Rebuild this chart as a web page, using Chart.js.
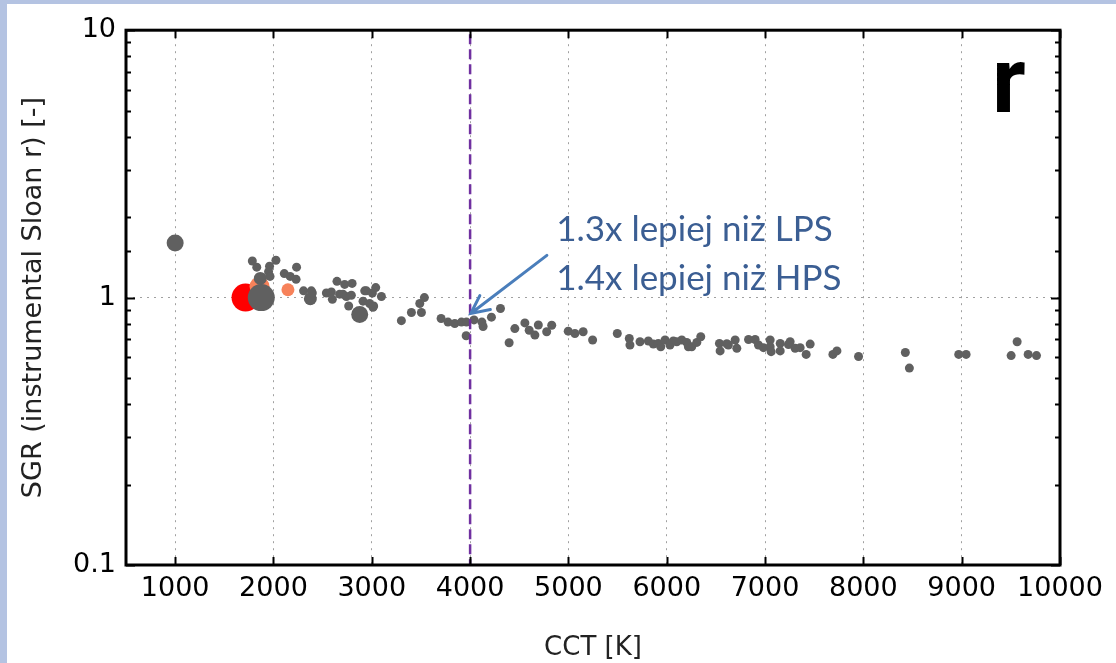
<!DOCTYPE html>
<html>
<head>
<meta charset="utf-8">
<script src="https://cdn.jsdelivr.net/npm/chart.js@4.4.1/dist/chart.umd.min.js"></script>
<style>
body { margin: 0; background: #b4c3e2; width: 1116px; height: 663px; overflow: hidden; }
#wykres { position: absolute; left: 7px; top: 4px; background: #fff; }
</style>
</head>
<body>
<canvas id="wykres" width="1109" height="659"></canvas>
<script>
// MALE SZARE PUNKTY (CCT [K], SGR)
var cctSzare = [1785, 1830, 1960, 1950, 1965, 2025, 2110, 2170, 2230, 2235,
    2306, 2385, 2395, 2538, 2589, 2599, 2646, 2724, 2800, 2673, 2707, 2741, 2792, 2765, 2911,
    2928, 2945, 3006, 3040, 3098, 3019, 2978, 3012,
    3301, 3403, 3488, 3505, 3535, 3705, 3775, 3844, 3912, 3963, 3960, 4040, 4120, 4132, 4217, 4309,
    4397, 4455, 4557, 4601, 4659, 4694, 4779, 4830, 4998, 5066, 5150, 5246,
    5497, 5619, 5626, 5728, 5813, 5864, 5914, 5939, 5983, 6033, 6067, 6102, 6153, 6204, 6220,
    6254, 6306, 6346, 6536, 6543, 6611, 6627, 6696, 6713, 6832, 6899, 6933, 6984, 7052, 7052,
    7062, 7154, 7154, 7238, 7255, 7306, 7357, 7418, 7459,
    7690, 7731, 7951, 8427, 8468, 8970, 9045, 9503, 9564, 9676, 9761];
var sgrSzare = [1.37, 1.30, 1.31, 1.25, 1.20, 1.38, 1.23, 1.20, 1.17, 1.30,
    1.06, 1.06, 1.04, 1.04, 1.05, 0.985, 1.15, 1.12, 1.13, 1.03, 1.03, 1.01, 1.02, 0.93, 0.97,
    1.06, 1.06, 1.04, 1.09, 1.01, 0.93, 0.95, 0.92,
    0.82, 0.88, 0.95, 0.88, 1.0, 0.835, 0.81, 0.80, 0.81, 0.81, 0.72, 0.825, 0.81, 0.78, 0.845, 0.91,
    0.678, 0.766, 0.804, 0.755, 0.724, 0.79, 0.745, 0.788, 0.749, 0.734, 0.745, 0.694,
    0.734, 0.703, 0.665, 0.684, 0.688, 0.67, 0.674, 0.655, 0.694, 0.665, 0.688, 0.684, 0.694, 0.68, 0.655,
    0.655, 0.68, 0.714, 0.674, 0.632, 0.672, 0.665, 0.694, 0.646, 0.697, 0.697, 0.665, 0.65, 0.694, 0.655,
    0.628, 0.674, 0.632, 0.668, 0.684, 0.646, 0.65, 0.613, 0.67,
    0.613, 0.632, 0.602, 0.623, 0.545, 0.613, 0.613, 0.607, 0.684, 0.613, 0.607];

// DUZE SZARE PUNKTY
var cctDuze = [1000, 1876, 1866, 2877, 2375];
var sgrDuze = [1.6, 1.0, 1.18, 0.865, 0.99];

// CZERWONY I POMARANCZOWE
var cctCzerwone = [1716];
var sgrCzerwone = [1.0];
var cctPomaranczowe = [1858, 2147];
var sgrPomaranczowe = [1.1, 1.07];

// OSIE
var zakresX = [500, 10000];
var etykietyX = [1000, 2000, 3000, 4000, 5000, 6000, 7000, 8000, 9000, 10000];
var zakresY = [0.1, 10];
var granicaCCT = 4000;
var opis = ['1.3x lepiej niż LPS', '1.4x lepiej niż HPS'];

function punkty(xs, ys) {
    var wynik = [];
    for (var i = 0; i < xs.length; i++) wynik.push({ x: xs[i], y: ys[i] });
    return wynik;
}

function czyDekada(v) {
    var l = Math.log10(v);
    return Math.abs(l - Math.round(l)) < 1e-9;
}

//ZNACZNIKI I RAMKA
var ramka = {
    id: 'ramka',
    afterDraw: function (chart) {
        var c = chart.ctx;
        var a = chart.chartArea;
        var sx = chart.scales.x;
        var sy = chart.scales.y;
        c.save();
        c.strokeStyle = '#000';
        c.lineWidth = 2;
        c.beginPath();
        sx.ticks.forEach(function (t) {
            var px = Math.round(sx.getPixelForValue(t.value)) + 0.5;
            c.moveTo(px, a.bottom); c.lineTo(px, a.bottom - 8);
            c.moveTo(px, a.top); c.lineTo(px, a.top + 8);
        });
        sy.ticks.forEach(function (t) {
            var py = Math.round(sy.getPixelForValue(t.value)) + 0.5;
            var d = czyDekada(t.value) ? 9 : 5;
            c.moveTo(a.left, py); c.lineTo(a.left + d, py);
            c.moveTo(a.right, py); c.lineTo(a.right - d, py);
        });
        c.stroke();
        c.lineWidth = 3;
        c.strokeRect(a.left, a.top, a.right - a.left, a.bottom - a.top);
        c.restore();
    }
};

//LINIA 4000 K, STRZALKA I NAPISY
var adnotacje = {
    id: 'adnotacje',
    afterDatasetsDraw: function (chart) {
        var c = chart.ctx;
        var a = chart.chartArea;
        var sx = chart.scales.x;
        var sy = chart.scales.y;
        var px = sx.getPixelForValue(granicaCCT);
        c.save();
        c.strokeStyle = '#7030a0';
        c.lineWidth = 2.5;
        c.setLineDash([10, 5]);
        c.beginPath();
        c.moveTo(px, a.top + 4);
        c.lineTo(px, a.bottom);
        c.stroke();
        c.setLineDash([]);

        // strzalka
        var x1 = sx.getPixelForValue(4781), y1 = sy.getPixelForValue(1.438);
        var x2 = sx.getPixelForValue(4007), y2 = sy.getPixelForValue(0.872);
        var kat = Math.atan2(y2 - y1, x2 - x1);
        c.strokeStyle = '#4a7ebb';
        c.lineWidth = 3;
        c.lineCap = 'round';
        c.beginPath();
        c.moveTo(x1, y1); c.lineTo(x2, y2);
        c.moveTo(x2 - 20 * Math.cos(kat - 0.45), y2 - 20 * Math.sin(kat - 0.45));
        c.lineTo(x2, y2);
        c.lineTo(x2 - 20 * Math.cos(kat + 0.45), y2 - 20 * Math.sin(kat + 0.45));
        c.stroke();

        c.fillStyle = '#3b5e93';
        c.font = '35px Lato';
        c.textBaseline = 'alphabetic';
        var tx = sx.getPixelForValue(4875);
        c.fillText(opis[0], tx, sy.getPixelForValue(1.634), 301);
        c.fillText(opis[1], tx, sy.getPixelForValue(1.064), 310);

        c.fillStyle = '#000';
        c.font = 'bold 92px Roboto';
        c.fillText('r', a.right - 68, a.top + 82);
        c.restore();
    }
};

var wykres = new Chart(document.getElementById('wykres'), {
    type: 'scatter',
    data: {
        datasets: [{
            data: punkty(cctSzare, sgrSzare),
            backgroundColor: '#606060',
            pointRadius: 4.5,
            borderWidth: 0,
            order: 0
        }, {
            data: punkty(cctDuze, sgrDuze),
            backgroundColor: '#606060',
            pointRadius: [8.5, 13.5, 6.5, 8.5, 6.5],
            borderWidth: 0,
            order: 1
        }, {
            data: punkty(cctPomaranczowe, sgrPomaranczowe),
            backgroundColor: '#f7825a',
            pointRadius: [10, 6.5],
            borderWidth: 0,
            order: 2
        }, {
            data: punkty(cctCzerwone, sgrCzerwone),
            backgroundColor: '#ff0000',
            pointRadius: 14,
            borderWidth: 0,
            order: 3
        }]
    },
    options: {
        responsive: false,
        animation: false,
        devicePixelRatio: 1,
        layout: { padding: { left: 0, top: 22, right: 56, bottom: 0 } },
        plugins: { legend: { display: false }, tooltip: { enabled: false } },
        scales: {
            x: {
                type: 'linear',
                min: zakresX[0],
                max: zakresX[1],
                afterFit: function (s) { s.height = 98; },
                afterBuildTicks: function (s) {
                    s.ticks = etykietyX.map(function (v) { return { value: v }; });
                },
                ticks: {
                    autoSkip: false,
                    maxRotation: 0,
                    padding: 8,
                    color: '#000',
                    font: { family: 'DejaVu Sans', size: 27 },
                    callback: function (v) { return String(v); }
                },
                grid: { color: '#a0a0a0', lineWidth: 1, drawTicks: false },
                border: { display: false, dash: [2, 5] },
                title: {
                    display: true,
                    text: 'CCT [K]',
                    color: '#222',
                    font: { family: 'DejaVu Sans', size: 26, lineHeight: 1 },
                    padding: { top: 0, bottom: 2 }
                }
            },
            y: {
                type: 'logarithmic',
                min: zakresY[0],
                max: zakresY[1],
                afterFit: function (s) { s.width = 119; },
                ticks: {
                    autoSkip: false,
                    padding: 10,
                    color: '#000',
                    font: { family: 'DejaVu Sans', size: 27 },
                    callback: function (v) { return czyDekada(v) ? String(v) : ''; }
                },
                grid: {
                    color: function (ctx) { return czyDekada(ctx.tick.value) ? '#a0a0a0' : 'rgba(0,0,0,0)'; },
                    lineWidth: 1,
                    drawTicks: false
                },
                border: { display: false, dash: [2, 5] },
                title: {
                    display: true,
                    text: 'SGR (instrumental Sloan r) [-]',
                    color: '#222',
                    font: { family: 'DejaVu Sans', size: 27, lineHeight: 1.2 },
                    padding: { top: 11, bottom: 0 }
                }
            }
        }
    },
    plugins: [adnotacje, ramka]
});
</script>
</body>
</html>
